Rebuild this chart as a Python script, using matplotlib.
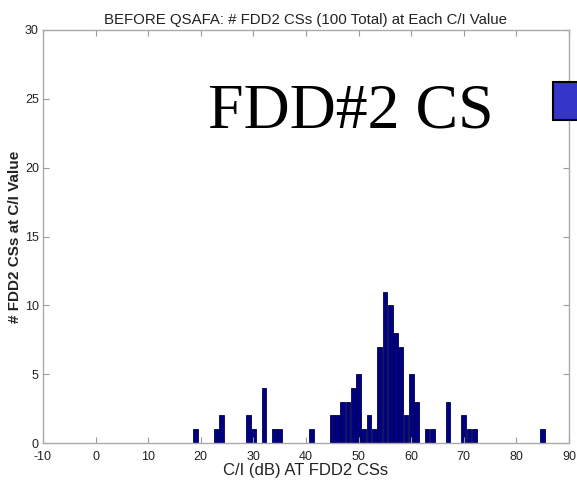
import matplotlib
matplotlib.use("Agg")
import matplotlib.pyplot as plt
from matplotlib.patches import Rectangle

# C/I values (dB) and count of FDD2 CSs at each value
ci_values = [19, 23, 24, 29, 30, 32, 34, 35, 41,
             45, 46, 47, 48, 49, 50, 51, 52, 53, 54, 55, 56, 57, 58, 59, 60, 61,
             63, 64, 67, 70, 71, 72, 85]
counts = [1, 1, 2, 2, 1, 4, 1, 1, 1,
          2, 2, 3, 3, 4, 5, 1, 2, 1, 7, 11, 10, 8, 7, 2, 5, 3,
          1, 1, 3, 2, 1, 1, 1]

x_ticks = list(range(-10, 91, 10))
y_ticks = list(range(0, 31, 5))

title = "BEFORE QSAFA: # FDD2 CSs (100 Total) at Each C/I Value"
xlabel = "C/I (dB) AT FDD2 CSs"
ylabel = "# FDD2 CSs at C/I Value"
overlay = "FDD#2 CS"

plt.rcParams['font.family'] = ['Liberation Sans', 'DejaVu Sans']
plt.rcParams['axes.unicode_minus'] = False

fig = plt.figure(figsize=(5.77, 4.83), dpi=100)
ax = fig.add_axes([43/577, 40/483, 526/577, 413/483])

ax.bar(ci_values, counts, width=0.9, color='#000080', edgecolor='#00004a',
       linewidth=0.6, align='center')

ax.set_xlim(-10, 90)
ax.set_ylim(0, 30)
ax.set_xticks(x_ticks)
ax.set_yticks(y_ticks)
ax.tick_params(direction='in', top=True, right=True, length=4, width=0.8,
               color='#999999', labelsize=9, labelcolor='#222222')
ax.tick_params(axis='x', pad=6)
ax.tick_params(axis='y', pad=3)
for s in ax.spines.values():
    s.set_color('#aaaaaa')
    s.set_linewidth(1.0)

ax.set_title(title, fontsize=10.8, color='#222222', pad=4)
ax.set_xlabel(xlabel, fontsize=12, color='#222222', labelpad=0)
ax.set_ylabel(ylabel, fontsize=11, color='#222222', labelpad=2, fontweight='bold')

fig.text(351/577, 1 - 112/483, overlay, fontsize=46, family=['Liberation Serif'],
         ha='center', va='center', color='black')

fig.patches.append(Rectangle((553/577, 1 - 120/483), 30/577, 38/483,
                             transform=fig.transFigure, facecolor='#3535c8',
                             edgecolor='black', linewidth=1.5, zorder=5))

fig.savefig('out.png', dpi=100)
